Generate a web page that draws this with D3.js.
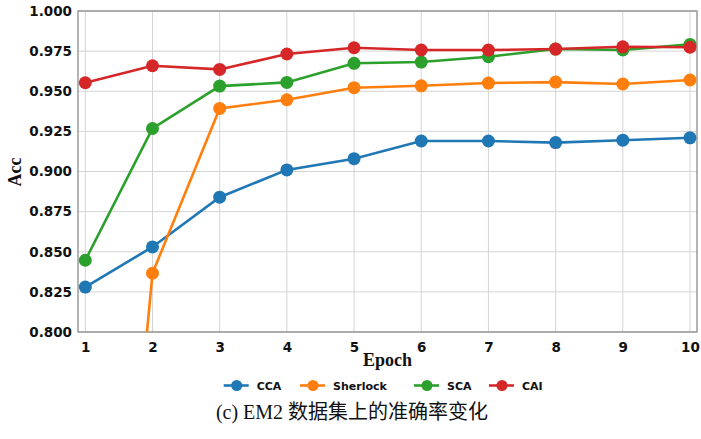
<!DOCTYPE html>
<html><head><meta charset="utf-8">
<script src="https://cdn.jsdelivr.net/npm/d3@7"></script>
<style>body{margin:0;background:#fff;}svg{display:block;}</style>
</head><body>
<svg id="chart" width="701" height="439"></svg>
<script>
const epochs = [1,2,3,4,5,6,7,8,9,10];
const seriesNames = ["CCA","Sherlock","SCA","CAI"];
const seriesColors = ["#1f77b4","#ff7f0e","#2ca02c","#d62728"];
const ccaValues = [0.828,0.853,0.884,0.901,0.908,0.919,0.919,0.918,0.9195,0.921];
const sherlockValues = [0.39,0.8366,0.9393,0.9447,0.9522,0.9534,0.9551,0.9557,0.9545,0.957];
const scaValues = [0.8447,0.9268,0.9532,0.9555,0.9674,0.9682,0.9715,0.9763,0.9757,0.9792];
const caiValues = [0.9553,0.9659,0.9636,0.9732,0.9771,0.9757,0.9757,0.9763,0.9777,0.9774];
const yTicks = [0.800,0.825,0.850,0.875,0.900,0.925,0.950,0.975,1.000];
const caption = "(c) EM2 数据集上的准确率变化";

const allValues = [ccaValues, sherlockValues, scaValues, caiValues];
const svg = d3.select("#chart");
const L = 78, R = 697, T = 11, B = 332;

const x = d3.scaleLinear().domain([1,10]).range([85.3,690]);
const y = d3.scaleLinear().domain([0.8,1.0]).range([B,T]);

// grid
const g = svg.append("g");
g.selectAll(".vg").data(epochs).join("line")
  .attr("x1",d=>x(d)).attr("x2",d=>x(d)).attr("y1",T).attr("y2",B)
  .attr("stroke","#d4d4d4").attr("stroke-width",1);
g.selectAll(".hg").data(yTicks).join("line")
  .attr("x1",L).attr("x2",R).attr("y1",d=>y(d)).attr("y2",d=>y(d))
  .attr("stroke","#d4d4d4").attr("stroke-width",1);

// axes via d3
const xAxis = svg.append("g").attr("transform",`translate(0,${B})`)
  .call(d3.axisBottom(x).tickValues(epochs).tickSize(0).tickPadding(10).tickFormat(d3.format("d")));
const yAxis = svg.append("g").attr("transform",`translate(${L},0)`)
  .call(d3.axisLeft(y).tickValues(yTicks).tickSize(0).tickPadding(6).tickFormat(d3.format(".3f")));
[xAxis,yAxis].forEach(a=>{
  a.select(".domain").remove();
  a.selectAll("text").attr("font-family","'DejaVu Sans',sans-serif").attr("font-weight","bold")
   .attr("font-size","13.5px").attr("fill","#111");
});

// frame
svg.append("rect").attr("x",L).attr("y",T).attr("width",R-L).attr("height",B-T)
  .attr("fill","none").attr("stroke","#8c8c8c").attr("stroke-width",1.3);

// clip
svg.append("clipPath").attr("id","clip").append("rect")
  .attr("x",L).attr("y",T-8).attr("width",R-L+8).attr("height",B-T+8);

const line = d3.line().x((d,i)=>x(epochs[i])).y(d=>y(d));
const plot = svg.append("g").attr("clip-path","url(#clip)");
allValues.forEach((vals,si)=>{
  const sg = plot.append("g");
  sg.append("path").datum(vals).attr("d",line).attr("fill","none")
    .attr("stroke",seriesColors[si]).attr("stroke-width",2.6);
  sg.selectAll("circle").data(vals.map((v,i)=>[epochs[i],v]).filter(d=>d[1]>=0.8)).join("circle")
    .attr("cx",d=>x(d[0])).attr("cy",d=>y(d[1])).attr("r",6.5).attr("fill",seriesColors[si]);
});

// axis titles
svg.append("text").attr("x",(L+R)/2).attr("y",366).attr("text-anchor","middle")
  .attr("font-family","'Liberation Serif',serif").attr("font-weight","bold").attr("font-size","18px")
  .attr("fill","#111").text("Epoch");
svg.append("text").attr("transform","translate(21,172) rotate(-90)").attr("text-anchor","middle")
  .attr("font-family","'Liberation Serif',serif").attr("font-weight","bold").attr("font-size","18px")
  .attr("fill","#111").text("Acc");

// legend
const legX = [236.7,313,427,502];
const leg = svg.append("g");
seriesNames.forEach((n,i)=>{
  const cx = legX[i], cy = 385.5;
  leg.append("line").attr("x1",cx-13).attr("x2",cx+12).attr("y1",cy).attr("y2",cy)
    .attr("stroke",seriesColors[i]).attr("stroke-width",2.6);
  leg.append("circle").attr("cx",cx).attr("cy",cy).attr("r",5.5).attr("fill",seriesColors[i]);
  leg.append("text").attr("x",cx+20).attr("y",cy+4).attr("font-family","'DejaVu Sans',sans-serif")
    .attr("font-weight","bold").attr("font-size","11px").attr("fill","#111").text(n);
});

// caption
svg.append("text").attr("x",352).attr("y",419).attr("text-anchor","middle")
  .attr("font-family","'Liberation Serif','Noto Sans CJK SC',serif").attr("font-size","20px")
  .attr("fill","#111").text(caption);
</script>
</body></html>
